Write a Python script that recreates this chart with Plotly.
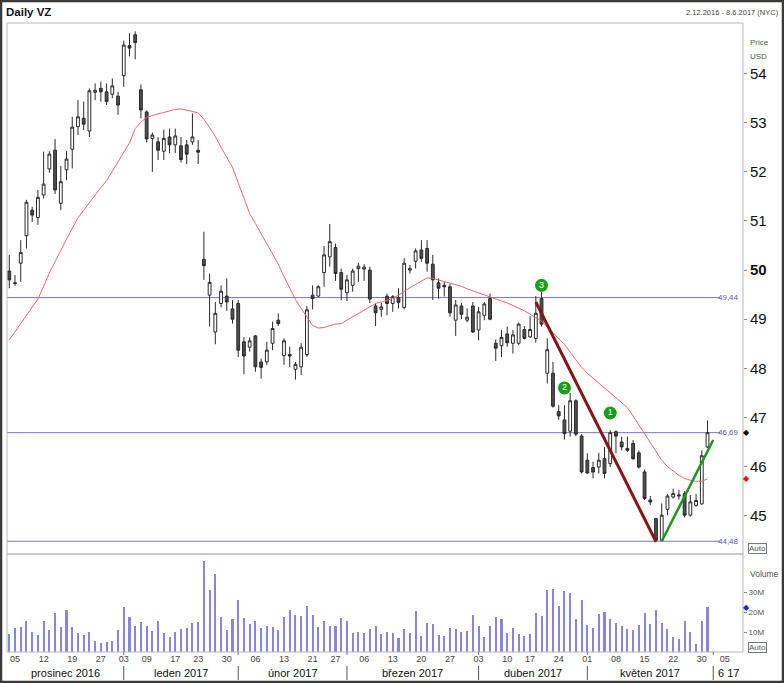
import pandas as pd
import plotly.graph_objects as go

# ---------------- data ----------------
holidays = ["2016-12-26", "2017-01-02", "2017-01-16", "2017-02-20", "2017-04-14", "2017-05-29"]
trading_days = pd.bdate_range("2016-12-02", "2017-06-08", freq="C", holidays=holidays)
day_labels = [d.strftime("%Y-%m-%d") for d in trading_days]

open_ = [49.98, 49.74, 50.14, 50.70, 51.22, 51.07, 51.53, 52.06, 52.44, 51.36,
         52.04, 52.46, 52.92, 53.09, 52.83, 53.62, 53.70, 53.63, 53.58, 53.54,
         53.96, 54.57, 54.79, 53.67, 53.22, 52.68, 52.61, 52.42, 52.71, 52.55,
         52.53, 52.55, 52.61, 52.44, 50.22, 49.49, 48.74, 49.32, 49.47, 49.21,
         49.32, 48.54, 48.43, 48.66, 48.13, 48.13, 48.51, 48.98, 48.26, 48.28,
         47.98, 48.03, 48.28, 49.49, 49.47, 49.95, 50.27, 50.46, 49.95, 49.54,
         49.69, 50.03, 50.02, 50.00, 49.27, 49.20, 49.47, 49.32, 49.44, 49.24,
         50.00, 50.18, 50.41, 50.44, 50.12, 49.74, 49.69, 49.66, 48.98, 49.27,
         48.98, 49.27, 48.78, 49.08, 49.42, 48.51, 48.46, 48.70, 48.51, 48.51,
         48.79, 48.64, 48.61, 49.42, 47.90, 47.90, 47.12, 46.95, 46.72, 47.34,
         46.62, 46.13, 45.98, 45.99, 46.16, 46.06, 46.71, 46.50, 46.37, 46.47,
         46.28, 45.89, 45.32, 44.94, 44.50, 45.13, 45.38, 45.40, 45.45, 45.01,
         45.21, 45.24, 46.40]
high = [50.31, 49.90, 50.61, 51.43, 51.29, 51.63, 52.41, 52.42, 52.67, 52.12,
        52.42, 53.12, 53.46, 53.43, 53.70, 53.80, 53.84, 53.80, 53.90, 53.63,
        54.67, 54.82, 54.86, 53.78, 53.25, 52.80, 52.71, 52.86, 52.88, 52.88,
        52.71, 52.65, 53.19, 52.65, 50.78, 49.93, 49.35, 49.69, 49.83, 49.39,
        49.39, 48.63, 48.63, 48.68, 48.20, 48.54, 48.95, 49.12, 48.61, 48.44,
        48.13, 48.51, 49.27, 49.69, 49.69, 50.49, 50.94, 50.54, 50.03, 49.90,
        50.03, 50.15, 50.12, 50.07, 49.32, 49.33, 49.52, 49.49, 49.63, 50.24,
        50.10, 50.44, 50.61, 50.61, 50.31, 49.83, 49.76, 49.72, 49.39, 49.33,
        49.22, 49.35, 49.25, 49.35, 49.52, 48.59, 48.78, 48.85, 48.78, 48.93,
        48.86, 49.06, 49.47, 49.56, 48.61, 48.13, 47.25, 47.25, 47.50, 47.37,
        46.66, 46.27, 46.10, 46.28, 46.40, 46.74, 46.74, 46.61, 46.61, 46.54,
        46.33, 45.94, 45.40, 44.96, 45.25, 45.44, 45.55, 45.52, 45.50, 45.42,
        45.44, 46.33, 46.94]
low = [49.63, 49.68, 49.76, 50.44, 50.98, 50.92, 51.46, 51.98, 51.55, 51.22,
       51.83, 52.07, 52.75, 52.85, 52.71, 53.46, 53.43, 53.36, 53.50, 53.16,
       53.73, 54.35, 54.29, 53.09, 52.60, 52.00, 52.24, 52.24, 52.38, 52.38,
       52.19, 52.16, 52.55, 52.16, 49.80, 48.85, 48.49, 49.24, 49.17, 48.91,
       48.23, 47.88, 48.34, 47.93, 47.79, 48.07, 48.37, 48.86, 48.07, 48.03,
       47.77, 47.86, 48.23, 49.20, 49.45, 49.66, 50.07, 49.78, 49.39, 49.37,
       49.56, 49.76, 49.78, 49.33, 48.86, 49.05, 49.08, 49.15, 49.22, 49.20,
       49.93, 50.03, 50.17, 49.97, 49.39, 49.42, 49.46, 49.05, 48.66, 49.00,
       48.94, 48.72, 48.57, 48.98, 48.98, 48.15, 48.23, 48.44, 48.30, 48.47,
       48.59, 48.62, 48.52, 48.85, 47.69, 47.20, 46.95, 46.55, 46.61, 46.62,
       45.86, 45.85, 45.76, 45.86, 45.76, 45.99, 46.27, 46.33, 46.30, 46.14,
       45.96, 45.32, 45.22, 44.48, 44.48, 45.01, 45.35, 45.33, 44.96, 44.98,
       45.18, 45.22, 46.38]
close = [49.80, 49.73, 50.36, 51.38, 51.12, 51.48, 51.75, 52.36, 51.63, 51.80,
         52.26, 52.91, 53.12, 52.97, 53.65, 53.66, 53.63, 53.43, 53.75, 53.36,
         54.58, 54.52, 54.63, 53.26, 52.67, 52.75, 52.44, 52.68, 52.55, 52.73,
         52.25, 52.36, 52.71, 52.40, 50.09, 49.75, 49.12, 49.57, 49.35, 49.00,
         48.37, 48.25, 48.56, 48.03, 48.02, 48.37, 48.81, 48.91, 48.56, 48.25,
         48.08, 48.43, 49.19, 49.42, 49.66, 50.31, 50.58, 49.93, 49.61, 49.80,
         49.98, 50.08, 50.06, 49.41, 49.13, 49.25, 49.32, 49.46, 49.34, 50.14,
         50.03, 50.39, 50.24, 50.14, 49.80, 49.63, 49.66, 49.13, 49.29, 49.10,
         49.04, 48.74, 49.15, 49.31, 49.00, 48.41, 48.63, 48.52, 48.68, 48.90,
         48.61, 48.79, 49.12, 48.90, 48.38, 47.23, 47.03, 46.67, 47.34, 46.66,
         45.89, 45.87, 45.89, 46.13, 45.86, 46.69, 46.62, 46.40, 46.33, 46.16,
         45.99, 45.35, 45.28, 44.50, 45.01, 45.40, 45.45, 45.42, 45.01, 45.28,
         45.31, 46.22, 46.69]
volume_m = [8.8, 12.2, 12.3, 15.5, 10.2, 8.5, 15.5, 11.0, 19.7, 12.7,
            21.0, 12.3, 9.3, 8.3, 9.8, 5.5, 4.7, 5.0, 5.5, 11.0,
            22.7, 17.7, 13.0, 14.8, 13.2, 10.7, 15.5, 9.5, 7.7, 9.8,
            11.7, 12.0, 14.5, 14.8, 45.5, 31.0, 39.2, 17.7, 10.8, 16.3,
            26.0, 16.8, 13.8, 15.5, 11.8, 13.0, 12.3, 11.2, 17.7, 20.8,
            18.7, 18.0, 23.2, 18.5, 12.3, 15.5, 13.2, 12.8, 17.0, 15.5,
            9.3, 9.8, 9.5, 11.7, 13.2, 8.8, 9.8, 9.3, 6.8, 11.3,
            9.3, 20.7, 8.0, 14.3, 13.8, 8.3, 8.0, 11.8, 11.3, 9.8,
            10.5, 18.5, 13.0, 7.3, 13.2, 17.7, 16.3, 9.3, 11.8, 9.0,
            8.0, 8.8, 19.3, 18.0, 31.0, 31.5, 23.0, 30.5, 29.7, 16.3,
            26.0, 13.3, 12.2, 18.8, 20.2, 16.3, 14.5, 13.2, 11.5, 11.0,
            13.3, 19.5, 14.0, 21.0, 14.7, 11.3, 7.7, 6.7, 15.3, 9.8,
            4.0, 15.5, 22.5]
ma20 = [48.58, 48.75, 48.91, 49.08, 49.24, 49.41, 49.67, 49.94, 50.17, 50.41,
        50.63, 50.85, 51.06, 51.22, 51.38, 51.54, 51.68, 51.82, 52.01, 52.20,
        52.40, 52.59, 52.88, 53.01, 53.11, 53.15, 53.18, 53.21, 53.24, 53.27,
        53.28, 53.26, 53.23, 53.20, 53.07, 52.90, 52.72, 52.50, 52.30, 52.09,
        51.78, 51.47, 51.15, 50.95, 50.74, 50.54, 50.33, 50.12, 49.87, 49.62,
        49.40, 49.22, 49.05, 48.87, 48.82, 48.83, 48.87, 48.90, 48.91, 48.98,
        49.05, 49.12, 49.19, 49.26, 49.32, 49.35, 49.39, 49.42, 49.49, 49.57,
        49.64, 49.71, 49.78, 49.84, 49.83, 49.80, 49.77, 49.73, 49.70, 49.67,
        49.62, 49.58, 49.54, 49.50, 49.46, 49.42, 49.37, 49.33, 49.28, 49.23,
        49.17, 49.10, 49.03, 48.96, 48.84, 48.72, 48.60, 48.49, 48.33, 48.18,
        48.02, 47.90, 47.80, 47.71, 47.61, 47.50, 47.40, 47.30, 47.20, 47.03,
        46.85, 46.68, 46.50, 46.31, 46.13, 46.00, 45.90, 45.82, 45.76, 45.72,
        45.70, 45.70, 45.75]

tick_dates = ["2016-12-05", "2016-12-12", "2016-12-19", "2016-12-27", "2017-01-03",
              "2017-01-09", "2017-01-17", "2017-01-23", "2017-01-30", "2017-02-06",
              "2017-02-13", "2017-02-21", "2017-02-27", "2017-03-06", "2017-03-13",
              "2017-03-20", "2017-03-27", "2017-04-03", "2017-04-10", "2017-04-17",
              "2017-04-24", "2017-05-01", "2017-05-08", "2017-05-15", "2017-05-22",
              "2017-05-30", "2017-06-05"]
month_starts = ["2016-12-02", "2017-01-03", "2017-02-01", "2017-03-01",
                "2017-04-03", "2017-05-01", "2017-06-01"]
month_names = ["prosinec 2016", "leden 2017", "únor 2017", "březen 2017",
               "duben 2017", "květen 2017", "6 17"]
price_ticks = [45, 46, 47, 48, 49, 50, 51, 52, 53, 54]
volume_ticks = [10, 20, 30]
levels = [49.44, 46.69, 44.48]
down_trend_dates = ["2017-04-18", "2017-05-17"]
down_trend_prices = [49.35, 44.47]
up_trend_dates = ["2017-05-18", "2017-06-01"]
up_trend_prices = [44.48, 46.54]
wave_dates = ["2017-05-05", "2017-04-25", "2017-04-19"]
wave_prices = [47.09, 47.60, 49.69]
wave_labels = ["1", "2", "3"]

# ---------------- geometry helpers ----------------
W, H = 784, 683
ML, MR, MT, MB = 7, 41, 23, 31
PW, PH = W - ML - MR, H - MT - MB
SPLIT = 0.1558
X_RANGE = [-0.4, 128.2]


def xp(px):
    return (px - ML) / PW


def yp(py):
    return (H - MB - py) / PH


pos = {d: i for i, d in enumerate(day_labels)}
xi = list(range(len(close)))

FONT = "Liberation Sans Narrow, Liberation Sans, Arial, sans-serif"

fig = go.Figure()

fig.add_trace(go.Bar(
    x=xi, y=volume_m, width=0.36, xaxis="x", yaxis="y2",
    marker=dict(color="#8686df", line=dict(width=0)), showlegend=False, hoverinfo="skip"))

fig.add_trace(go.Candlestick(
    x=xi, open=open_, high=high, low=low, close=close, xaxis="x", yaxis="y",
    increasing=dict(line=dict(color="#2a2a2a", width=1), fillcolor="white"),
    decreasing=dict(line=dict(color="#2a2a2a", width=1), fillcolor="#4f4f4f"),
    whiskerwidth=0, showlegend=False))

fig.add_trace(go.Scatter(
    x=xi, y=ma20, mode="lines", line=dict(color="#e46a6a", width=1),
    xaxis="x", yaxis="y", showlegend=False, hoverinfo="skip"))

fig.add_trace(go.Scatter(
    x=[pos[d] for d in down_trend_dates], y=down_trend_prices, mode="lines",
    line=dict(color="#861515", width=3), showlegend=False, hoverinfo="skip"))
fig.add_trace(go.Scatter(
    x=[pos[d] for d in up_trend_dates], y=up_trend_prices, mode="lines",
    line=dict(color="#1e951e", width=2.5), showlegend=False, hoverinfo="skip"))

fig.add_trace(go.Scatter(
    x=[pos[d] for d in wave_dates], y=wave_prices, mode="markers+text",
    marker=dict(size=13, color="#16a016"), text=wave_labels, textposition="middle center",
    textfont=dict(color="white", size=9, family="Liberation Sans"),
    showlegend=False, hoverinfo="skip", cliponaxis=False))

shapes = []
# outer window border
shapes.append(dict(type="rect", xref="paper", yref="paper",
                   x0=xp(1), x1=xp(W - 1), y0=yp(H - 1), y1=yp(1),
                   line=dict(color="#3a3a3a", width=2.5), layer="above"))
# pane frames
shapes.append(dict(type="rect", xref="paper", yref="paper", x0=0, x1=1, y0=SPLIT, y1=1,
                   line=dict(color="#b8b8b8", width=1), layer="above"))
shapes.append(dict(type="rect", xref="paper", yref="paper", x0=0, x1=1, y0=0, y1=SPLIT,
                   line=dict(color="#b8b8b8", width=1), layer="above"))
# level lines
for lv in levels:
    shapes.append(dict(type="line", xref="paper", yref="y", x0=0, x1=xp(720), y0=lv, y1=lv,
                       line=dict(color="#7676c6", width=1), layer="below"))
# month separators below the axis
for d in month_starts[1:]:
    shapes.append(dict(type="line", xref="x", yref="paper", x0=pos[d], x1=pos[d],
                       y0=yp(666), y1=yp(680), line=dict(color="#555", width=1)))
    shapes.append(dict(type="line", xref="x", yref="paper", x0=pos[d], x1=pos[d],
                       y0=yp(652), y1=yp(655), line=dict(color="#777", width=1)))

annotations = []
annotations.append(dict(text="<b>Daily VZ</b>", xref="paper", yref="paper", x=xp(4), y=yp(12),
                        xanchor="left", yanchor="middle", showarrow=False,
                        font=dict(size=11.5, color="#111", family=FONT)))
annotations.append(dict(text="2.12.2016 - 8.6.2017 (NYC)", xref="paper", yref="paper",
                        x=xp(781), y=yp(13), xanchor="right", yanchor="middle", showarrow=False,
                        font=dict(size=7.5, color="#444", family=FONT)))
for lv in levels:
    annotations.append(dict(text=f"{lv:.2f}".replace(".", ","), xref="paper", yref="y",
                            x=xp(741), y=lv, xanchor="right", yanchor="middle", showarrow=False,
                            font=dict(size=8, color="#5a5aa8", family=FONT)))
annotations.append(dict(text="Price", xref="paper", yref="paper", x=xp(748), y=yp(43),
                        xanchor="left", yanchor="middle", showarrow=False,
                        font=dict(size=8, color="#555", family=FONT)))
annotations.append(dict(text="USD", xref="paper", yref="paper", x=xp(748), y=yp(56),
                        xanchor="left", yanchor="middle", showarrow=False,
                        font=dict(size=8, color="#555", family=FONT)))
annotations.append(dict(text="Volume", xref="paper", yref="paper", x=xp(748), y=yp(574),
                        xanchor="left", yanchor="middle", showarrow=False,
                        font=dict(size=8.5, color="#555", family=FONT)))
for py in (548, 647):
    annotations.append(dict(text="Auto", xref="paper", yref="paper", x=xp(748), y=yp(py),
                            xanchor="left", yanchor="middle", showarrow=False,
                            bordercolor="#777", borderwidth=1, borderpad=0, bgcolor="white",
                            font=dict(size=8, color="#555", family=FONT)))
# last-value markers on the right axis
for val, col, yref in ((close[-1], "#111", "y"), (ma20[-1], "#e01818", "y"),
                       (volume_m[-1], "#1e2ed0", "y2")):
    annotations.append(dict(text="◆", xref="paper", yref=yref, x=xp(747), y=val,
                            xanchor="center", yanchor="middle", showarrow=False,
                            font=dict(size=8, color=col, family="DejaVu Sans")))
# month labels
bounds = [X_RANGE[0]] + [pos[d] for d in month_starts[1:]] + [X_RANGE[1]]
for k, name in enumerate(month_names):
    annotations.append(dict(text=name, xref="x", yref="paper",
                            x=(bounds[k] + bounds[k + 1]) / 2, y=yp(673),
                            xanchor="center", yanchor="middle", showarrow=False,
                            font=dict(size=11, color="#111", family=FONT)))

fig.update_layout(
    width=W, height=H, margin=dict(l=ML, r=MR, t=MT, b=MB),
    paper_bgcolor="white", plot_bgcolor="white",
    font=dict(family=FONT, color="#333"),
    showlegend=False, bargap=0,
    shapes=shapes, annotations=annotations,
    xaxis=dict(domain=[0, 1], range=X_RANGE, anchor="y2",
               tickvals=[pos[d] for d in tick_dates], ticktext=[d[8:] for d in tick_dates],
               tickfont=dict(size=9, color="#444"), ticks="", showgrid=False,
               zeroline=False, showline=False, rangeslider=dict(visible=False)),
    yaxis=dict(domain=[SPLIT, 1], range=[44.22, 55.03], side="right", anchor="x",
               tickvals=price_ticks,
               ticktext=[f"<b>{t}</b>" if t == 50 else str(t) for t in price_ticks],
               tickfont=dict(size=15, color="#111"), ticks="outside", ticklen=3,
               tickcolor="#888", showgrid=False, zeroline=False, showline=False),
    yaxis2=dict(domain=[0, SPLIT], range=[0, 49], side="right", anchor="x",
                tickvals=volume_ticks, ticktext=[f"{t}M" for t in volume_ticks],
                tickfont=dict(size=8, color="#555"), ticks="outside", ticklen=3,
                tickcolor="#888", showgrid=False, zeroline=False, showline=False),
)

# place the figure at the page's top-left corner (no default body margin), no mode bar
fig.write_html("out.html", config={"displayModeBar": False},
               post_script="document.body.style.margin='0';document.body.style.overflow='hidden';")
